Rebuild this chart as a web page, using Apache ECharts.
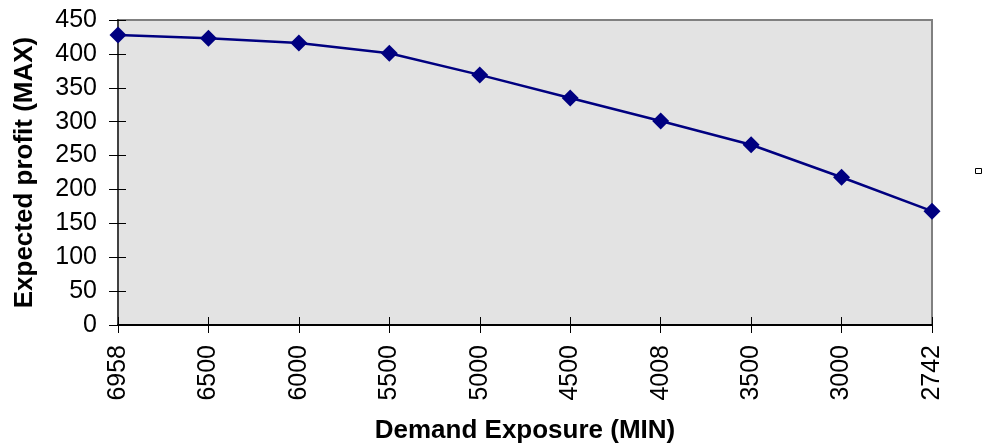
<!DOCTYPE html>
<html>
<head>
<meta charset="utf-8">
<script src="https://cdn.jsdelivr.net/npm/echarts@6/dist/echarts.min.js"></script>
<style>
html,body{margin:0;padding:0;background:#fff;}
#chart{width:983px;height:445px;}
</style>
</head>
<body>
<div id="chart"></div>
<script>
const categories = ['6958','6500','6000','5500','5000','4500','4008','3500','3000','2742'];
const profit = [428, 423, 416, 401, 369, 335, 301, 266, 218, 168];
const yMin = 0, yMax = 450, yStep = 50;

const chart = echarts.init(document.getElementById('chart'), null, {renderer:'canvas'});
const font = 'Liberation Sans, Arial, sans-serif';
chart.setOption({
  animation:false,
  backgroundColor:'#ffffff',
  legend:{
    show:true, right:1, top:168, itemWidth:6, itemHeight:5, itemGap:0, padding:0,
    formatter:function(){return '';},
    data:[{name:'Expected profit', icon:'rect', itemStyle:{color:'#ffffff', borderColor:'#000000', borderWidth:1}}]
  },
  grid:{left:118, right:51, top:20, bottom:120, containLabel:false, outerBoundsMode:'none',
        show:true, backgroundColor:'#E3E3E3', borderColor:'#808080', borderWidth:2},
  xAxis:[{
    type:'category', data:categories, boundaryGap:false,
    name:'Demand Exposure (MIN)', nameLocation:'middle', nameGap:93,
    nameTextStyle:{fontFamily:font, fontWeight:'bold', fontSize:26, color:'#000'},
    axisLine:{lineStyle:{color:'#000', width:2}},
    axisTick:{show:true, length:8, alignWithLabel:true, lineStyle:{color:'#000', width:1}},
    axisLabel:{rotate:90, margin:20, fontFamily:font, fontSize:25, color:'#000'},
    splitLine:{show:false}
  },{
    type:'category', data:categories, boundaryGap:false, position:'bottom',
    axisLine:{show:false},
    axisTick:{show:true, inside:true, length:8, lineStyle:{color:'#000', width:1}},
    axisLabel:{show:false}, splitLine:{show:false}
  }],
  yAxis:[{
    type:'value', min:yMin, max:yMax, interval:yStep,
    name:'Expected profit (MAX)', nameLocation:'middle', nameGap:80, nameRotate:90,
    nameTextStyle:{fontFamily:font, fontWeight:'bold', fontSize:26, color:'#000'},
    axisLine:{show:true, lineStyle:{color:'#404040', width:2}},
    axisTick:{show:true, length:9, lineStyle:{color:'#000', width:1}},
    axisLabel:{margin:21, fontFamily:font, fontSize:25, color:'#000'},
    splitLine:{show:false}
  },{
    type:'value', min:yMin, max:yMax, interval:yStep, position:'left',
    axisLine:{show:false},
    axisTick:{show:true, inside:true, length:8, lineStyle:{color:'#000', width:1}},
    axisLabel:{show:false}, splitLine:{show:false}
  }],
  series:[{
    name:'Expected profit', type:'line', data:profit,
    xAxisIndex:0, yAxisIndex:0,
    lineStyle:{color:'#000080', width:2.5},
    itemStyle:{color:'#000080'},
    symbol:'diamond', symbolSize:17, showSymbol:true
  }]
});
</script>
</body>
</html>
